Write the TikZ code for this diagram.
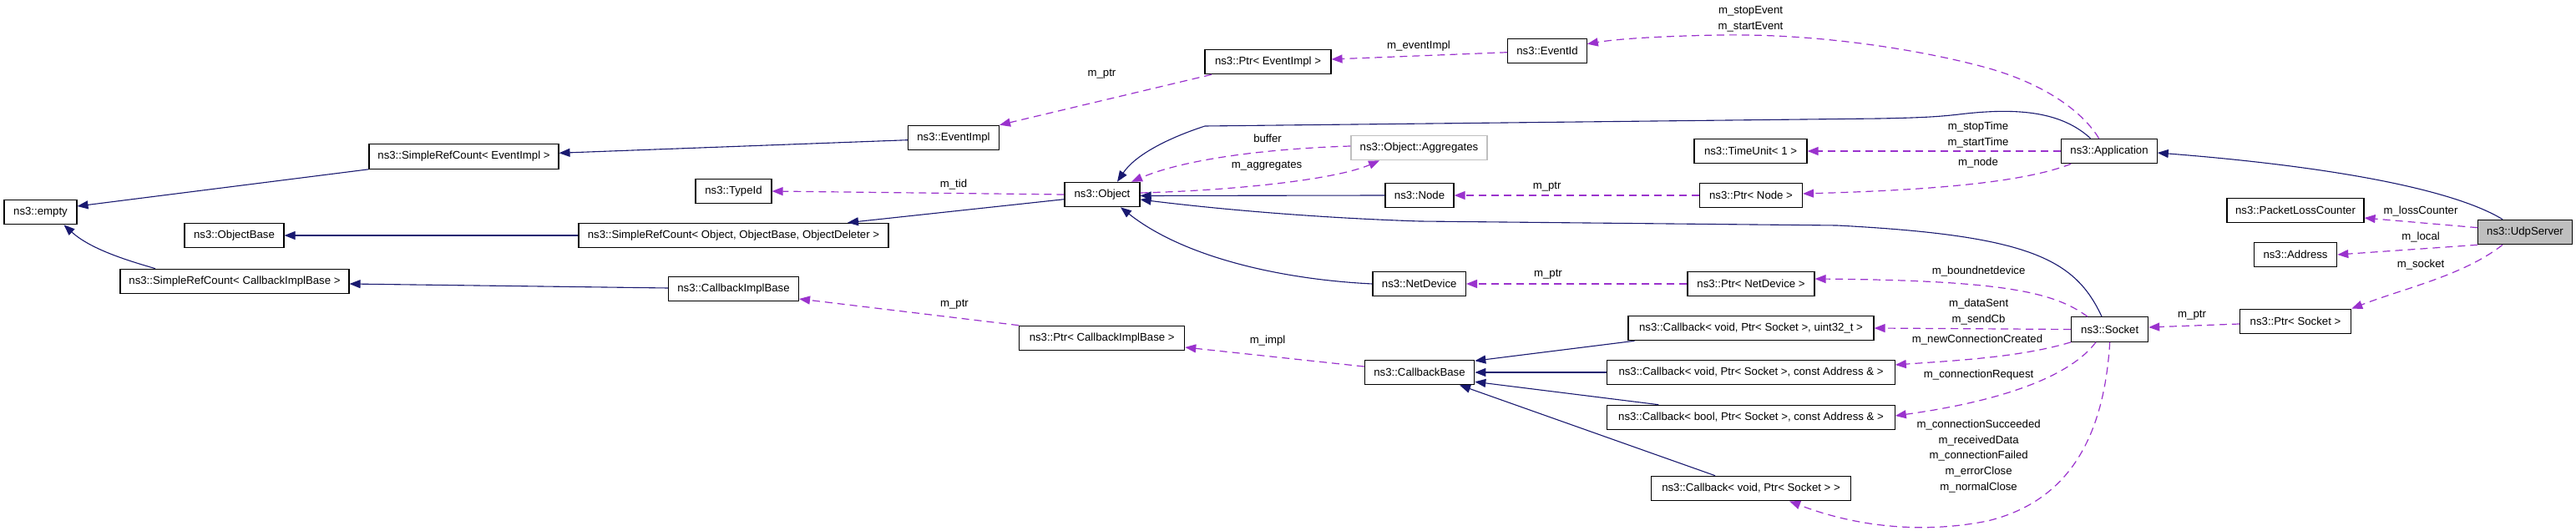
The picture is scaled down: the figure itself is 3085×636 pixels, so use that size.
\documentclass[tikz,border=0pt]{standalone}
\usepackage{fontspec}
\setmainfont{Liberation Sans}
\usetikzlibrary{arrows.meta}
\definecolor{inhcol}{HTML}{191970}
\definecolor{usecol}{HTML}{9A32CD}
\definecolor{greybox}{HTML}{BFBFBF}
\begin{document}
\begin{tikzpicture}[x=1pt,y=-1pt,
  box/.style={draw=black, line width=1.1pt, fill=white, minimum height=29.5pt, inner sep=0pt, font=\fontsize{13.2}{15}\selectfont},
  lbl/.style={inner sep=0pt, align=center, font=\fontsize{13.2}{18.8}\selectfont},
  inh/.style={draw=inhcol, line width=1.1pt, -{Triangle[length=13pt,width=10pt]}},
  use/.style={draw=usecol, line width=1.2pt, dash pattern=on 9pt off 6pt, -{Triangle[length=13pt,width=10pt]}},
]
\useasboundingbox[fill=white] (0,0) rectangle (3085,636);

% ---------- nodes ----------
\node[box, minimum width=87pt]    (empty)     at (48.5,254)  {ns3::empty};
\node[box, minimum width=227pt]   (srcEvent)  at (555.5,187.5) {ns3::SimpleRefCount< EventImpl >};
\node[box, minimum width=119pt]   (objbase)   at (280.5,282) {ns3::ObjectBase};
\node[box, minimum width=274pt]   (srcCIB)    at (281,337)   {ns3::SimpleRefCount< CallbackImplBase >};
\node[box, minimum width=109pt]   (eventimpl) at (1142,165)  {ns3::EventImpl};
\node[box, minimum width=91pt]    (typeid)    at (878.5,229) {ns3::TypeId};
\node[box, minimum width=371pt]   (srcObj)    at (878.5,282) {ns3::SimpleRefCount< Object, ObjectBase, ObjectDeleter >};
\node[box, minimum width=156pt]   (cib)       at (878.5,346) {ns3::CallbackImplBase};
\node[box, minimum width=90pt]    (object)    at (1320,233)  {ns3::Object};
\node[box, minimum width=151pt]   (ptrEvent)  at (1518.5,74) {ns3::Ptr< EventImpl >};
\node[box, minimum width=163pt, draw=greybox] (aggr) at (1699.5,177) {ns3::Object::Aggregates};
\node[box, minimum width=82pt]    (node)      at (1700,234)  {ns3::Node};
\node[box, minimum width=111.5pt] (netdev)    at (1699.7,340) {ns3::NetDevice};
\node[box, minimum width=131.5pt] (cbbase)    at (1700,446)  {ns3::CallbackBase};
\node[box, minimum width=198pt]   (ptrCIB)    at (1319.7,405) {ns3::Ptr< CallbackImplBase >};
\node[box, minimum width=94.5pt]  (eventid)   at (1853,61)   {ns3::EventId};
\node[box, minimum width=135pt]   (timeunit)  at (2096.5,181) {ns3::TimeUnit< 1 >};
\node[box, minimum width=123pt]   (ptrNode)   at (2097,234)  {ns3::Ptr< Node >};
\node[box, minimum width=152pt]   (ptrNetDev) at (2097,340)  {ns3::Ptr< NetDevice >};
\node[box, minimum width=294pt]   (cbA)       at (2097,393)  {ns3::Callback< void, Ptr< Socket >, uint32\_t >};
\node[box, minimum width=344.5pt] (cbB)       at (2097,446)  {ns3::Callback< void, Ptr< Socket >, const Address \& >};
\node[box, minimum width=344.5pt] (cbC)       at (2097,500)  {ns3::Callback< bool, Ptr< Socket >, const Address \& >};
\node[box, minimum width=238.5pt] (cbD)       at (2097,585)  {ns3::Callback< void, Ptr< Socket > >};
\node[box, minimum width=114.5pt] (app)       at (2526,181)  {ns3::Application};
\node[box, minimum width=92pt]    (socket)    at (2526.7,394.5) {ns3::Socket};
\node[box, minimum width=164pt]   (plc)       at (2749,252)  {ns3::PacketLossCounter};
\node[box, minimum width=99.5pt]  (address)   at (2749,305)  {ns3::Address};
\node[box, minimum width=133.3pt] (ptrSocket) at (2749,385)  {ns3::Ptr< Socket >};
\node[box, minimum width=112.5pt, fill=greybox] (udp) at (3024,278) {ns3::UdpServer};

% ---------- inheritance ----------
\draw[inh] (srcEvent.south west) -- ([shift={(0,-7)}]empty.east);
\draw[inh] ([shift={(-95,0)}]srcCIB.north) .. controls (160,314) and (110,300) .. ([shift={(28,0)}]empty.south);
\draw[inh] (srcObj.west) -- (objbase.east);
\draw[inh] ([shift={(0,2.7)}]eventimpl.west) -- ([shift={(0,-4.2)}]srcEvent.east);
\draw[inh] ([shift={(0,5.7)}]object.west) -- ([shift={(136.5,0)}]srcObj.north);
\draw[inh] ([shift={(0,-1)}]cib.west) -- ([shift={(0,3)}]srcCIB.east);
\draw[inh] ([shift={(-22.5,0)}]app.north) .. controls (2470,135) and (2420,128) .. (2346,137)
   .. controls (2320,140) and (2300,141) .. (2250,142) -- (1443,151)
   .. controls (1400,165) and (1360,185) .. ([shift={(18,0)}]object.north);
\draw[inh] (node.west) -- ([shift={(0,1.5)}]object.east);
\draw[inh] ([shift={(-9.7,0)}]socket.north) .. controls (2485,310) and (2430,282) .. (2200,270)
   -- (1700,265) .. controls (1550,260) and (1430,247) .. ([shift={(0,6)}]object.east);
\draw[inh] (netdev.west) .. controls (1540,335) and (1420,310) .. ([shift={(22,0)}]object.south);
\draw[inh] ([shift={(8,0)}]cbA.south west) -- ([shift={(0,1.5)}]cbbase.north east);
\draw[inh] (cbB.west) -- (cbbase.east);
\draw[inh] ([shift={(62,0)}]cbC.north west) -- ([shift={(0,-4)}]cbbase.south east);
\draw[inh] ([shift={(-43,0)}]cbD.north) -- ([shift={(48,0)}]cbbase.south);
\draw[inh] ([shift={(-27,0)}]udp.north) .. controls (2940,228) and (2800,200) .. ([shift={(0,2)}]app.east);

% ---------- usage ----------
\draw[use] ([shift={(8.5,0)}]ptrEvent.south west) -- (eventimpl.north east);
\node[lbl] (l1) at (1319.5,89) {m\_ptr};
\draw[use] ([shift={(0,1.7)}]eventid.west) -- ([shift={(0,-3)}]ptrEvent.east);
\node[lbl] (l2) at (1699,55) {m\_eventImpl};
\draw[use] ([shift={(-12.4,0)}]app.north) .. controls (2495,135) and (2450,100) .. (2375,80)
   .. controls (2300,60) and (2180,40) .. (2060,42) .. controls (2000,43) and (1940,46) .. ([shift={(0,-8.3)}]eventid.east);
\node[lbl] (l3) at (2096.5,22.8) {m\_stopEvent\\m\_startEvent};
\draw[use] (object.west) -- (typeid.east);
\node[lbl] (l4) at (1142,220.7) {m\_tid};
\draw[use] ([shift={(0,-2)}]aggr.west) .. controls (1520,178) and (1420,190) .. ([shift={(35,0)}]object.north);
\node[lbl] (l5) at (1518,166) {buffer};
\draw[use] ([shift={(0,-2)}]object.east) .. controls (1480,228) and (1600,215) .. ([shift={(-47.5,0)}]aggr.south);
\node[lbl] (l6) at (1517,199) {m\_aggregates};
\draw[use] (ptrNode.west) -- (node.east);
\node[lbl] (l7) at (1852.6,224) {m\_ptr};
\draw[use] (app.west) -- (timeunit.east);
\node[lbl] (l8) at (2369,161.2) {m\_stopTime\\m\_startTime};
\draw[use] ([shift={(12,0)}]app.south west) .. controls (2420,220) and (2300,228) .. ([shift={(0,-2)}]ptrNode.east);
\node[lbl] (l9) at (2369,195) {m\_node};
\draw[use] (ptrNetDev.west) -- (netdev.east);
\node[lbl] (l10) at (1854,329) {m\_ptr};
\draw[use] ([shift={(-26.7,0)}]socket.north) .. controls (2460,350) and (2400,336) .. ([shift={(0,-6)}]ptrNetDev.east);
\node[lbl] (l11) at (2369.6,325) {m\_boundnetdevice};
\draw[use] (socket.west) -- (cbA.east);
\node[lbl] (l12) at (2369.6,373.4) {m\_dataSent\\m\_sendCb};
\draw[use] (socket.south west) .. controls (2420,428) and (2340,432) .. ([shift={(0,-9)}]cbB.east);
\node[lbl] (l13) at (2368,407) {m\_newConnectionCreated};
\draw[use] ([shift={(-16.7,0)}]socket.south) .. controls (2480,450) and (2400,480) .. ([shift={(0,-2)}]cbC.east);
\node[lbl] (l14) at (2369.6,449) {m\_connectionRequest};
\draw[use] (socket.south) .. controls (2520,520) and (2480,600) .. (2380,624)
   .. controls (2300,640) and (2220,630) .. ([shift={(46,0)}]cbD.south);
\node[lbl] (l15) at (2369.6,546.5) {m\_connectionSucceeded\\m\_receivedData\\m\_connectionFailed\\m\_errorClose\\m\_normalClose};
\draw[use] (ptrCIB.north west) -- ([shift={(0,-3.3)}]cib.south east);
\node[lbl] (l16) at (1143,365) {m\_ptr};
\draw[use] ([shift={(0,-7)}]cbbase.west) -- ([shift={(0,11)}]ptrCIB.east);
\node[lbl] (l17) at (1518,407.7) {m\_impl};
\draw[use] ([shift={(0,-5.3)}]udp.west) -- ([shift={(0,9)}]plc.east);
\node[lbl] (l18) at (2899,252.7) {m\_lossCounter};
\draw[use] (udp.south west) -- (address.east);
\node[lbl] (l19) at (2899,284) {m\_local};
\draw[use] ([shift={(-27,0)}]udp.south) .. controls (2950,330) and (2880,345) .. (ptrSocket.north east);
\node[lbl] (l20) at (2899,316.7) {m\_socket};
\draw[use] ([shift={(0,3)}]ptrSocket.west) -- ([shift={(0,-2.5)}]socket.east);
\node[lbl] (l21) at (2625,378) {m\_ptr};
\end{tikzpicture}
\end{document}
